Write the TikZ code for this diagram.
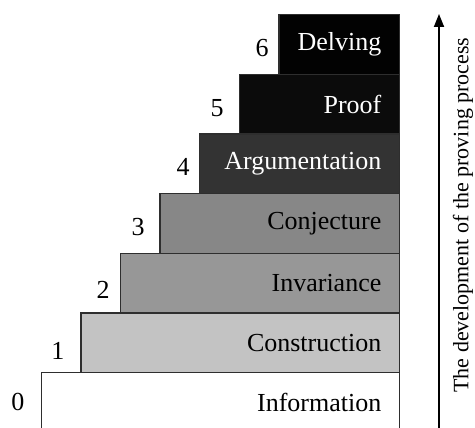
\documentclass[tikz,border=0pt]{standalone}
\usepackage{fontspec}
\setmainfont{Liberation Serif}
\usetikzlibrary{arrows.meta}
\definecolor{cA}{HTML}{FFFFFF}
\definecolor{cB}{HTML}{C3C3C3}
\definecolor{cC}{HTML}{979797}
\definecolor{cD}{HTML}{878787}
\definecolor{cE}{HTML}{333333}
\definecolor{cF}{HTML}{0B0B0B}
\definecolor{cG}{HTML}{020202}
\definecolor{edge}{HTML}{2E2E2E}
\tikzset{
  stage/.style={draw=edge, line width=1.3pt, anchor=north east, minimum height=59.7pt,
    inner xsep=18pt, inner ysep=0pt, align=right, font=\fontsize{26}{30}\selectfont},
  num/.style={font=\fontsize{26}{30}\selectfont, inner sep=0pt},
}
\begin{document}
\begin{tikzpicture}[x=1pt,y=-1pt]
\useasboundingbox (0,0) rectangle (475,428);
\clip (0,0) rectangle (475,428);
\node[stage, fill=cA, text=black, text width={400-42-36}] (s0) at (400,372) {Information};
\node[stage, fill=cB, text=black, text width={400-81.5-36}] (s1) at (400,312.3) {Construction};
\node[stage, fill=cC, text=black, text width={400-121-36}] (s2) at (400,252.7) {Invariance};
\node[stage, fill=cD, text=black, text width={400-160.5-36}] (s3) at (400,193) {Conjecture};
\node[stage, fill=cE, text=white, text width={400-200-36}] (s4) at (400,133.4) {Argumentation};
\node[stage, fill=cF, text=white, text width={400-240-36}] (s5) at (400,73.7) {Proof};
\node[stage, fill=cG, text=white, text width={400-279.5-36}] (s6) at (400,14) {Delving};
\node[num] (n0) at (18,402) {0};
\node[num] (n1) at (58,351) {1};
\node[num] (n2) at (103,290) {2};
\node[num] (n3) at (138,227) {3};
\node[num] (n4) at (183,167) {4};
\node[num] (n5) at (217,108) {5};
\node[num] (n6) at (262,48) {6};
\coordinate (abot) at (439,430);
\coordinate (atop) at (439,14);
\draw[line width=1.8pt, -{Triangle[length=13pt,width=10pt]}] (abot) -- (atop);
\node[rotate=90, font=\fontsize{22}{26}\selectfont, inner sep=0pt] (lab) at (463,215) {The development of the proving process};
\end{tikzpicture}
\end{document}
